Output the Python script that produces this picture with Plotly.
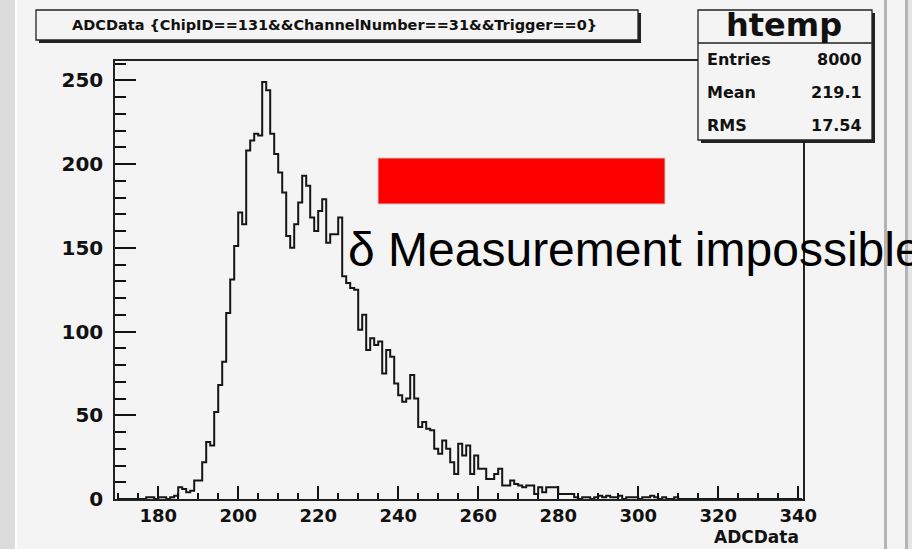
import plotly.graph_objects as go

# ---------------- data ----------------
bin_start = 170          # lower edge of first bin
bin_width = 1
counts = [
    0, 0, 0, 0, 0, 0, 0, 1, 1, 0,          # 170-179
    1, 1, 0, 1, 2, 7, 6, 4, 5, 11,         # 180-189
    11, 22, 34, 32, 52, 68, 82, 111, 131, 151,   # 190-199
    171, 164, 208, 214, 218, 217, 249, 244, 218, 206,  # 200-209
    195, 183, 157, 150, 164, 177, 193, 187, 168, 160,  # 210-219
    172, 179, 153, 158, 158, 168, 133, 129, 126, 125,  # 220-229
    101, 110, 89, 96, 92, 94, 75, 89, 85, 69,          # 230-239
    62, 58, 60, 74, 60, 43, 46, 42, 41, 30,            # 240-249
    27, 35, 30, 22, 15, 33, 26, 32, 15, 26,            # 250-259
    18, 18, 12, 12, 15, 18, 8, 8, 11, 9,               # 260-269
    8, 7, 8, 8, 3, 7, 4, 7, 7, 7,                      # 270-279
    3, 3, 3, 3, 1, 0, 1, 1, 0, 1,                      # 280-289
    2, 1, 2, 1, 1, 2, 0, 1, 1, 1,                      # 290-299
    0, 1, 1, 2, 1, 0, 1, 0, 0, 1,                      # 300-309
    0, 0, 0, 0, 0, 0, 0, 0, 0, 0,                      # 310-319
    0, 0, 0, 0, 0, 0, 0, 0, 0, 0,                      # 320-329
    0, 0, 0, 0, 0, 0, 0, 0, 0, 0, 0,                   # 330-340
]
x_ticks = [180, 200, 220, 240, 260, 280, 300, 320, 340]
y_ticks = [0, 50, 100, 150, 200, 250]
title_text = "ADCData {ChipID==131&&ChannelNumber==31&&Trigger==0}"
stats_name = "htemp"
stats_labels = ["Entries", "Mean", "RMS"]
stats_values = ["8000", "219.1", "17.54"]
x_title = "ADCData"
note_text = "δ Measurement impossible"

# ---------------- geometry helpers ----------------
W, H = 912, 549
L, R, T, B = 115, 803, 61, 499
PW, PH = R - L, B - T


def px(x):
    return (x - L) / PW


def py(y):
    return (B - y) / PH


edges = [bin_start + i * bin_width for i in range(len(counts) + 1)]
yvals = counts + [counts[-1]]

fig = go.Figure()
fig.add_trace(go.Scatter(
    x=edges, y=yvals, mode="lines", line_shape="hv",
    line=dict(color="#151515", width=2), hoverinfo="skip", showlegend=False,
))

BG = "#f4f4f4"
shapes = []
# outer decorations
shapes.append(dict(type="rect", xref="paper", yref="paper", x0=px(0), x1=px(15),
                   y0=py(H), y1=py(0), fillcolor="#dcdcdc", line=dict(width=0), layer="below"))
shapes.append(dict(type="rect", xref="paper", yref="paper", x0=px(15), x1=px(17),
                   y0=py(H), y1=py(0), fillcolor="#ffffff", line=dict(width=0), layer="below"))
shapes.append(dict(type="rect", xref="paper", yref="paper", x0=px(884), x1=px(887),
                   y0=py(H), y1=py(0), fillcolor="#b4b4b4", line=dict(width=0), layer="below"))
shapes.append(dict(type="rect", xref="paper", yref="paper", x0=px(905), x1=px(908),
                   y0=py(H), y1=py(0), fillcolor="#b4b4b4", line=dict(width=0), layer="below"))
shapes.append(dict(type="rect", xref="paper", yref="paper", x0=px(908), x1=px(912),
                   y0=py(H), y1=py(0), fillcolor="#e4e4e4", line=dict(width=0), layer="below"))

# title box with shadow
shapes.append(dict(type="rect", xref="paper", yref="paper", x0=px(39), x1=px(641),
                   y0=py(43), y1=py(13), fillcolor="#222222", line=dict(width=0), layer="above"))
shapes.append(dict(type="rect", xref="paper", yref="paper", x0=px(36), x1=px(638),
                   y0=py(40), y1=py(10), fillcolor=BG, line=dict(color="#222222", width=1.3),
                   layer="above"))
# stats box with shadow
shapes.append(dict(type="rect", xref="paper", yref="paper", x0=px(701), x1=px(875),
                   y0=py(143), y1=py(13), fillcolor="#222222", line=dict(width=0), layer="above"))
shapes.append(dict(type="rect", xref="paper", yref="paper", x0=px(698), x1=px(872),
                   y0=py(140), y1=py(10), fillcolor=BG, line=dict(color="#222222", width=1.3),
                   layer="above"))
shapes.append(dict(type="line", xref="paper", yref="paper", x0=px(698), x1=px(872),
                   y0=py(43), y1=py(43), line=dict(color="#222222", width=1.3), layer="above"))
# red box
shapes.append(dict(type="rect", xref="paper", yref="paper", x0=px(378), x1=px(665),
                   y0=py(204), y1=py(158), fillcolor="#ff0000", line=dict(color="#c8c8c8", width=1),
                   layer="above"))

annotations = []
annotations.append(dict(xref="paper", yref="paper", x=px(334), y=py(25), text=title_text,
                        showarrow=False, xanchor="center", yanchor="middle",
                        font=dict(family="DejaVu Sans", size=14.5, color="#111", weight="bold")))
annotations.append(dict(xref="paper", yref="paper", x=px(784), y=py(25), text=stats_name,
                        showarrow=False, xanchor="center", yanchor="middle",
                        font=dict(family="DejaVu Sans", size=32, color="#111", weight="bold")))
for i, (lab, val) in enumerate(zip(stats_labels, stats_values)):
    yy = 59 + i * 33
    annotations.append(dict(xref="paper", yref="paper", x=px(705), y=py(yy), text=lab,
                            showarrow=False, xanchor="left", yanchor="middle",
                            font=dict(family="DejaVu Sans", size=16, color="#111", weight="bold")))
    annotations.append(dict(xref="paper", yref="paper", x=px(864), y=py(yy), text=val,
                            showarrow=False, xanchor="right", yanchor="middle",
                            font=dict(family="DejaVu Sans", size=16, color="#111", weight="bold")))
annotations.append(dict(xref="paper", yref="paper", x=px(801), y=py(549), text=x_title,
                        showarrow=False, xanchor="right", yanchor="bottom",
                        font=dict(family="DejaVu Sans", size=17, color="#111", weight="bold")))
annotations.append(dict(xref="paper", yref="paper", x=px(346), y=py(250), text=note_text,
                        showarrow=False, xanchor="left", yanchor="middle",
                        font=dict(family="Liberation Sans", size=48, color="#000")))

axis_font = dict(family="DejaVu Sans", size=18, color="#111", weight="bold")
fig.update_layout(
    width=W, height=H,
    margin=dict(l=L, r=W - R, t=T, b=H - B, pad=0),
    paper_bgcolor=BG, plot_bgcolor=BG,
    showlegend=False,
    shapes=shapes, annotations=annotations,
    xaxis=dict(range=[169.2, 341.2], tickvals=x_ticks, ticks="inside", ticklen=13,
               tickwidth=1.5, tickcolor="#111", showgrid=False, zeroline=False,
               showline=True, linecolor="#222", linewidth=1.5, mirror=True,
               tickfont=axis_font, ticklabelstandoff=0,
               minor=dict(ticks="inside", ticklen=6, dtick=5, tick0=0, tickwidth=1.5,
                          tickcolor="#111", showgrid=False)),
    yaxis=dict(range=[0, 261.5], tickvals=y_ticks, ticks="inside", ticklen=21,
               tickwidth=1.5, tickcolor="#111", showgrid=False, zeroline=False,
               showline=True, linecolor="#222", linewidth=1.5, mirror=True,
               tickfont=dict(family="DejaVu Sans", size=20, color="#111", weight="bold"),
               ticklabelstandoff=6,
               minor=dict(ticks="inside", ticklen=11, dtick=10, tick0=0, tickwidth=1.5,
                          tickcolor="#111", showgrid=False)),
)

fig.write_html("out.html")
